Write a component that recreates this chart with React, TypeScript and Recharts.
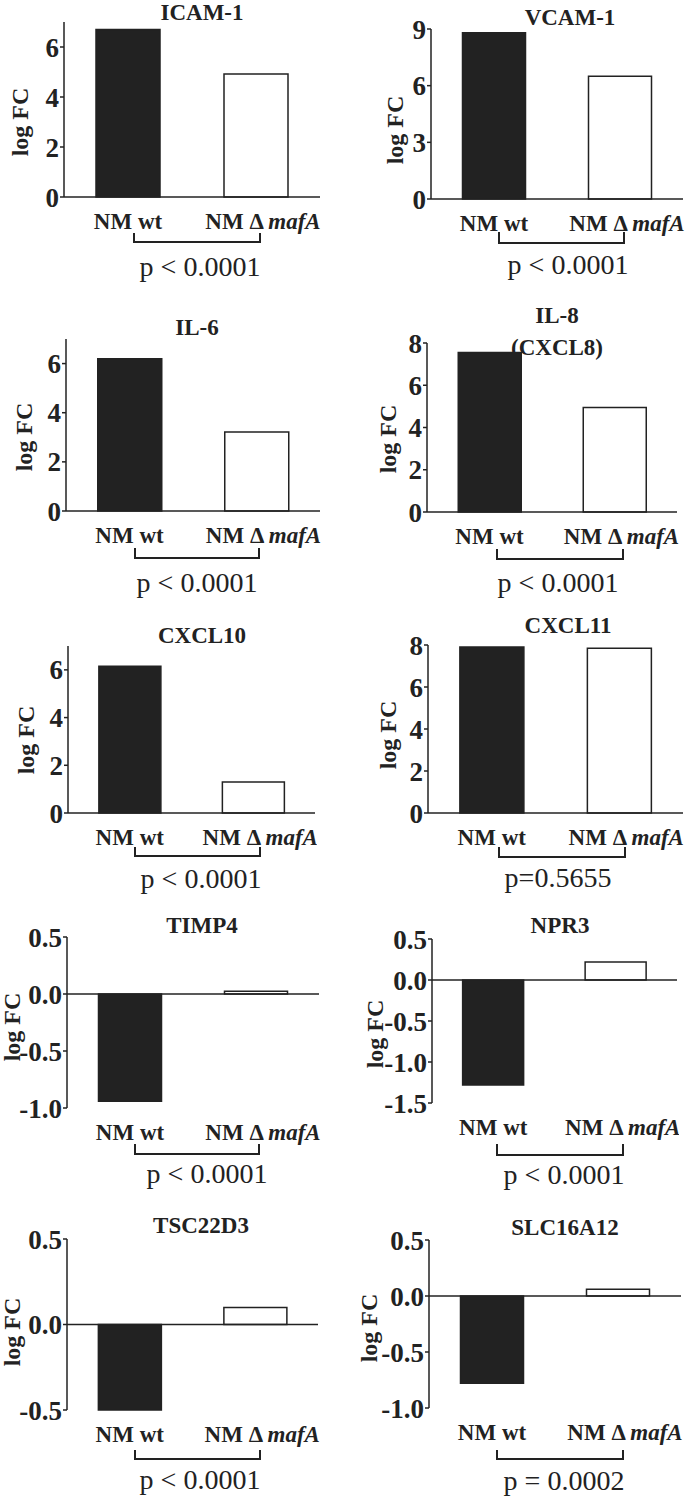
import React from 'react';
import { BarChart, Bar, XAxis, YAxis, Cell, ReferenceLine } from 'recharts';

const genes = ['ICAM-1', 'VCAM-1', 'IL-6', 'IL-8\n(CXCL8)', 'CXCL10', 'CXCL11', 'TIMP4', 'NPR3', 'TSC22D3', 'SLC16A12'];
const strains = ['NM wt', 'NM Δ mafA'];
const wtLogFC = [6.7, 8.8, 6.2, 7.55, 6.15, 7.9, -0.94, -1.28, -0.5, -0.78];
const mafALogFC = [4.92, 6.5, 3.22, 4.95, 1.3, 7.85, 0.025, 0.22, 0.1, 0.06];
const pValues = ['p < 0.0001', 'p < 0.0001', 'p < 0.0001', 'p < 0.0001', 'p < 0.0001', 'p=0.5655', 'p < 0.0001', 'p < 0.0001', 'p < 0.0001', 'p = 0.0002'];
const yDomains = [[0, 7], [0, 9], [0, 7], [0, 8], [0, 7], [0, 8], [-1, 0.5], [-1.5, 0.5], [-0.5, 0.5], [-1, 0.5]];
const yTicks = [
  [0, 2, 4, 6], [0, 3, 6, 9], [0, 2, 4, 6], [0, 2, 4, 6, 8], [0, 2, 4, 6], [0, 2, 4, 6, 8],
  [-1, -0.5, 0, 0.5], [-1.5, -1, -0.5, 0, 0.5], [-0.5, 0, 0.5], [-1, -0.5, 0, 0.5],
];

// page geometry of each panel (plot box, title, y label, bracket, p text)
const layout = [
  { axisX: 64, right: 320, top: 22, bottom: 197, title: [202, 20], yLabel: [28, 122], bracket: [134, 260, 233, 242], p: [200, 276] },
  { axisX: 431, right: 683, top: 29, bottom: 199, title: [570, 25], yLabel: [403, 130], bracket: [499, 624, 232, 243], p: [568, 274] },
  { axisX: 66, right: 320, top: 339, bottom: 511, title: [197, 335], yLabel: [32, 437], bracket: [135, 259, 548, 558], p: [197, 592] },
  { axisX: 427, right: 677, top: 343, bottom: 512, title: [557, 323], yLabel: [396, 439], bracket: [497, 623, 549, 559], p: [558, 592] },
  { axisX: 68, right: 315, top: 646, bottom: 813, title: [202, 643], yLabel: [34, 740], bracket: [135, 260, 847, 856], p: [201, 888] },
  { axisX: 428, right: 683, top: 645, bottom: 813, title: [568, 633], yLabel: [396, 735], bracket: [499, 625, 847, 857], p: [558, 887] },
  { axisX: 67, right: 319, top: 937, bottom: 1108, title: [202, 933], yLabel: [20, 1027], bracket: [135, 259, 1144, 1154], p: [207, 1183] },
  { axisX: 432, right: 677, top: 939, bottom: 1103, title: [560, 933], yLabel: [383, 1034], bracket: [497, 623, 1144, 1155], p: [564, 1184] },
  { axisX: 67, right: 318, top: 1239, bottom: 1410, title: [201, 1233], yLabel: [20, 1332], bracket: [135, 260, 1450, 1459], p: [200, 1489] },
  { axisX: 429, right: 681, top: 1240, bottom: 1408, title: [565, 1235], yLabel: [377, 1328], bracket: [497, 623, 1450, 1459], p: [564, 1490] },
];

const INK = '#222';
const SERIF = '"Liberation Serif", "Times New Roman", serif';
const YW = 64;
const MT = 16;
const MR = 2;
const XH = 44;

const StrainTick = (props: any) => {
  const { x, y, payload } = props;
  const label: string = payload.value;
  const italic = label.indexOf('mafA');
  return (
    <text
      x={italic >= 0 ? x + 7 : x}
      y={y + 32}
      textAnchor="middle"
      fontFamily={SERIF}
      fontWeight="bold"
      fontSize={23}
      fill={INK}
    >
      {italic >= 0 ? (
        <>
          {label.slice(0, italic)}
          <tspan fontStyle="italic">{label.slice(italic)}</tspan>
        </>
      ) : label}
    </text>
  );
};

const fmt = (i: number) => (v: number) => (yDomains[i][0] < 0 ? v.toFixed(1) : String(v));

const Panel = ({ i }: { i: number }) => {
  const g = layout[i];
  const data = strains.map((name, k) => ({ name, value: k === 0 ? wtLogFC[i] : mafALogFC[i] }));
  const plotW = g.right - g.axisX;
  const plotH = g.bottom - g.top;
  return (
    <div style={{ position: 'absolute', left: g.axisX - YW, top: g.top - MT }}>
      <BarChart
        width={YW + plotW + MR}
        height={MT + plotH + XH}
        data={data}
        margin={{ top: MT, right: MR, bottom: 0, left: 0 }}
        barCategoryGap="25%"
      >
        <XAxis
          dataKey="name"
          axisLine={false}
          tickLine={false}
          tickSize={0}
          tickMargin={0}
          height={XH}
          interval={0}
          tick={<StrainTick />}
        />
        <YAxis
          type="number"
          domain={yDomains[i]}
          ticks={yTicks[i]}
          width={YW}
          axisLine={{ stroke: INK, strokeWidth: 1.5 }}
          tickLine={{ stroke: INK, strokeWidth: 1.5 }}
          tickSize={4}
          tickMargin={1}
          interval={0}
          tickFormatter={fmt(i)}
          tick={{ fontSize: 27, fontWeight: 'bold', fill: INK, fontFamily: SERIF }}
        />
        <Bar dataKey="value" isAnimationActive={false} stroke={INK} strokeWidth={1.5}>
          {data.map((d, k) => (
            <Cell key={d.name} fill={k === 0 ? INK : '#ffffff'} />
          ))}
        </Bar>
        <ReferenceLine y={0} stroke={INK} strokeWidth={1.5} />
      </BarChart>
    </div>
  );
};

const Notes = () => (
  <svg width={685} height={1498} style={{ position: 'absolute', left: 0, top: 0, pointerEvents: 'none' }}>
    {layout.map((g, i) => {
      const [bx1, bx2, by1, by2] = g.bracket;
      const lines = genes[i].split('\n');
      return (
        <g key={genes[i]} fontFamily={SERIF} fill={INK}>
          <text x={g.title[0]} y={g.title[1]} textAnchor="middle" fontWeight="bold" fontSize={23}>
            {lines.map((t, k) => (
              <tspan key={t} x={g.title[0]} dy={k === 0 ? 0 : 32}>{t}</tspan>
            ))}
          </text>
          <text
            x={g.yLabel[0]}
            y={g.yLabel[1]}
            transform={`rotate(-90 ${g.yLabel[0]} ${g.yLabel[1]})`}
            textAnchor="middle"
            fontWeight="bold"
            fontSize={24}
          >
            log FC
          </text>
          <path d={`M${bx1},${by1} V${by2} H${bx2} V${by1}`} fill="none" stroke={INK} strokeWidth={2} />
          <text x={g.p[0]} y={g.p[1]} textAnchor="middle" fontSize={28}>
            {pValues[i]}
          </text>
        </g>
      );
    })}
  </svg>
);

export default function App() {
  return (
    <div style={{ position: 'absolute', left: 0, top: 0, width: 685, height: 1498, background: '#fff' }}>
      {genes.map((g, i) => (
        <Panel key={g} i={i} />
      ))}
      <Notes />
    </div>
  );
}
